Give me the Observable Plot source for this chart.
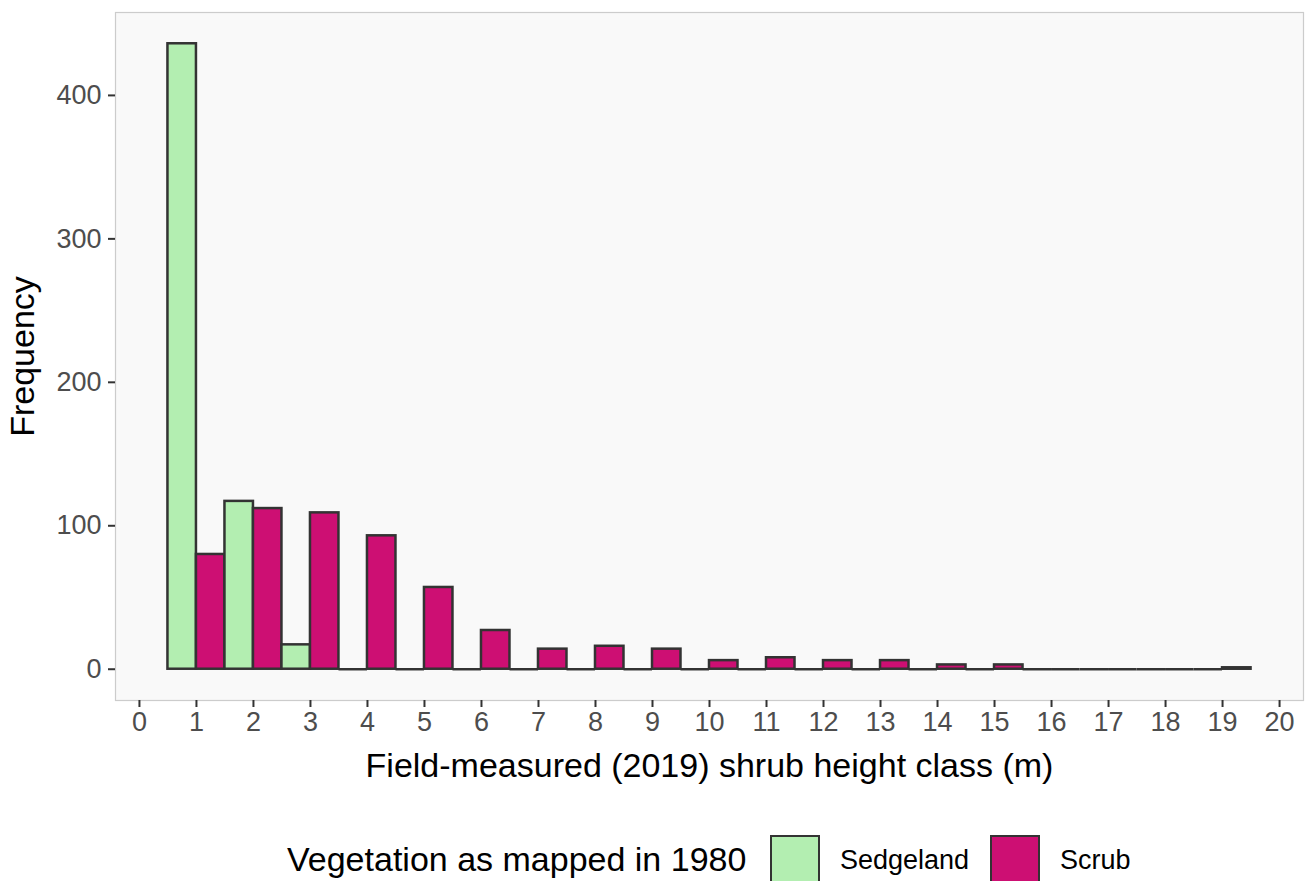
<!DOCTYPE html>
<html>
<head>
<meta charset="utf-8">
<script src="https://cdn.jsdelivr.net/npm/d3@7"></script>
<script src="https://cdn.jsdelivr.net/npm/@observablehq/plot@0.6"></script>
<style>
  html, body { margin: 0; padding: 0; background: #ffffff; overflow: hidden; }
  body { width: 1307px; height: 881px; position: relative; font-family: "Liberation Sans", Arial, sans-serif; }
  #chart { position: absolute; left: 0; top: 0; }
  #legend { position: absolute; left: 0; top: 835px; width: 1307px; height: 60px; }
  .lg-title { position: absolute; left: 287px; top: 4px; font-size: 34px; line-height: 40px; color: #000; white-space: nowrap; }
  .lg-key { position: absolute; top: 0; width: 50px; height: 50px; box-sizing: border-box; border: 2.5px solid #333333; }
  .lg-label { position: absolute; top: 9px; font-size: 27px; line-height: 32px; color: #000; white-space: nowrap; }
</style>
</head>
<body>
<div id="chart"></div>
<div id="legend"></div>
<script>
// Height classes (m) and counts per class for each 1980 vegetation type
const heightClass = [1, 2, 3, 4, 5, 6, 7, 8, 9, 10, 11, 12, 13, 14, 15, 16, 17, 18, 19];
const sedgeland   = [436, 117, 17, 0, 0, 0, 0, 0, 0, 0, 0, 0, 0, 0, 0, 0, 0, 0, 0];
const scrub       = [80, 112, 109, 93, 57, 27, 14, 16, 14, 6, 8, 6, 6, 3, 3, 0, 0, 0, 1];
const vegTypes    = ["Sedgeland", "Scrub"];
const vegColors   = ["#b3eeb1", "#cd0f73"];
const xTicks      = d3.range(0, 21);
const yTicks      = [0, 100, 200, 300, 400];

// Dodged bars: Sedgeland takes the left half of each class, Scrub the right half
const rows = [];
heightClass.forEach((c, i) => {
  rows.push({type: "Sedgeland", x1: c - 0.5, x2: c, n: sedgeland[i]});
  rows.push({type: "Scrub", x1: c, x2: c + 0.5, n: scrub[i]});
});
// Empty classes still show their outline as a flat line on zero
const emptyRows = rows.filter(d => d.n === 0);

const W = 1307, H = 800;
const chart = Plot.plot({
  width: W,
  height: H,
  marginLeft: 115,
  marginRight: 4,
  marginTop: 12,
  marginBottom: H - 700,
  style: {fontFamily: "'Liberation Sans', Arial, sans-serif", background: "transparent"},
  x: {domain: [-0.42, 20.42]},
  y: {domain: [-21.8, 457.8]},
  color: {domain: vegTypes, range: vegColors},
  marks: [
    Plot.frame({fill: "#f9f9f9", stroke: "#cccccc", strokeWidth: 1.2}),
    Plot.ruleY(emptyRows, {x1: "x1", x2: "x2", y: 0, stroke: "#333333", strokeWidth: 2.5}),
    Plot.rectY(rows.filter(d => d.n > 0), {x1: "x1", x2: "x2", y1: 0, y2: "n", fill: "type", stroke: "#333333", strokeWidth: 2.5}),
    Plot.axisX({ticks: xTicks, tickSize: 7, tickPadding: 4, fontSize: 27, tickFormat: d => d, color: "#4d4d4d", stroke: "#333333", strokeWidth: 2, label: null}),
    Plot.axisY({ticks: yTicks, tickSize: 7, tickPadding: 7, fontSize: 27, tickFormat: d => d, color: "#4d4d4d", stroke: "#333333", strokeWidth: 2, label: null}),
    Plot.text(["Field-measured (2019) shrub height class (m)"], {frameAnchor: "bottom", dy: 76, fontSize: 34, fill: "#000000", text: d => d}),
    Plot.text(["Frequency"], {frameAnchor: "left", dx: -92, rotate: -90, textAnchor: "middle", fontSize: 34, fill: "#000000", text: d => d})
  ]
});
document.getElementById("chart").appendChild(chart);

// Legend below the chart
const legend = document.getElementById("legend");
const title = document.createElement("div");
title.className = "lg-title";
title.textContent = "Vegetation as mapped in 1980";
legend.appendChild(title);
const keyX = [770, 990];
vegTypes.forEach((t, i) => {
  const key = document.createElement("div");
  key.className = "lg-key";
  key.style.left = keyX[i] + "px";
  key.style.background = vegColors[i];
  legend.appendChild(key);
  const lab = document.createElement("div");
  lab.className = "lg-label";
  lab.style.left = (keyX[i] + 70) + "px";
  lab.textContent = t;
  legend.appendChild(lab);
});
</script>
</body>
</html>
